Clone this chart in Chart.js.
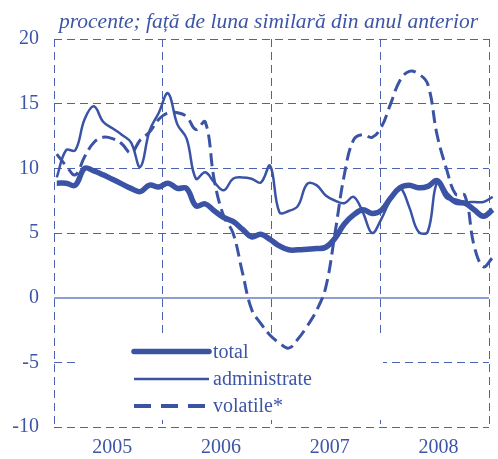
<!DOCTYPE html>
<html><head><meta charset="utf-8">
<script src="https://cdn.jsdelivr.net/npm/chart.js@4.4.1/dist/chart.umd.min.js"></script>
<style>html,body{margin:0;padding:0;background:#fff}#wrap{width:498px;height:459px}</style>
</head><body><div id="wrap"><canvas id="c" width="498" height="459"></canvas></div>
<script>
const titleText = 'procente; față de luna similară din anul anterior';
const years = ['2005', '2006', '2007', '2008'];
const seriesNames = ['total', 'administrate', 'volatile*'];
// monthly values, Jan 2005 - Dec 2008
const total = [8.85, 8.85, 8.7, 10.0, 9.8, 9.5, 9.15, 8.8, 8.45, 8.2, 8.7, 8.56,
  8.85, 8.45, 8.45, 7.1, 7.25, 6.7, 6.2, 5.9, 5.3, 4.7, 4.9, 4.5,
  4.0, 3.7, 3.7, 3.75, 3.8, 3.9, 4.6, 5.7, 6.4, 6.8, 6.5, 6.76,
  7.7, 8.5, 8.7, 8.5, 8.6, 9.05, 8.0, 7.4, 7.3, 6.8, 6.3, 6.8];
const administrate = [9.3, 11.4, 11.4, 13.8, 14.8, 13.6, 13.1, 12.6, 12.0, 10.1, 12.9, 14.3,
  15.8, 13.4, 12.3, 9.2, 9.7, 8.9, 8.3, 9.2, 9.3, 9.2, 8.9, 10.2,
  6.6, 6.7, 7.1, 8.8, 8.7, 7.9, 7.5, 7.3, 7.8, 6.6, 5.0, 6.1,
  7.6, 8.5, 7.0, 5.1, 5.1, 8.9, 7.7, 7.6, 7.4, 7.4, 7.4, 7.8];
const volatile = [11.1, 10.2, 9.5, 10.9, 12.0, 12.4, 12.3, 11.9, 11.2, 12.2, 12.8, 13.8,
  14.3, 14.3, 14.0, 13.0, 13.6, 9.0, 6.3, 5.0, 2.0, -0.9, -2.0, -2.9,
  -3.5, -3.9, -3.2, -2.2, -1.0, 0.8, 5.0, 9.5, 12.2, 12.6, 12.4, 13.2,
  15.0, 16.8, 17.5, 17.3, 16.5, 12.6, 10.0, 8.0, 7.9, 4.0, 2.4, 3.1];

const BLUE = '#3a53a4';
const TEXT = '#3d55a6';
const GRID = '#4a62b0';
const ZERO = '#8e9dd2';
const FONT = '"Liberation Serif", "Times New Roman", serif';

const X_MIN = -0.3, X_MAX = 46.6;
const span = (X_MAX - X_MIN) / years.length;
const bounds = [];
for (let k = 0; k <= years.length; k++) bounds.push(X_MIN + k * span);
const centers = years.map((y, k) => bounds[k] + span / 2 + 0.42);
const isCenter = v => centers.some(c => Math.abs(c - v) < 1e-6);

const toPts = arr => arr.map((v, i) => ({x: i, y: v}));

const styles = [
  {borderWidth: 5.5, borderDash: []},
  {borderWidth: 2.5, borderDash: []},
  {borderWidth: 3, borderDash: [13, 6]}
];
const seriesData = [total, administrate, volatile];

const decor = {
  id: 'decor',
  beforeDatasetsDraw(chart) {
    const c = chart.ctx;
    c.save();
    c.fillStyle = '#fff';
    c.fillRect(77, 338, 306, 82);
    c.restore();
  },
  afterDatasetsDraw(chart) {
    const c = chart.ctx;
    c.save();
    // title
    c.fillStyle = TEXT;
    c.font = 'italic 21.5px ' + FONT;
    c.textBaseline = 'alphabetic';
    c.textAlign = 'left';
    c.fillText(titleText, 59, 28);
    // legend
    const ys = [351.5, 379, 406];
    chart.data.datasets.forEach((ds, i) => {
      c.strokeStyle = BLUE;
      c.lineWidth = [5.5, 2.5, 4][i];
      c.setLineDash(i === 2 ? [17, 10] : []);
      c.lineCap = i === 0 ? 'round' : 'butt';
      c.beginPath();
      c.moveTo(134, ys[i]);
      c.lineTo(209, ys[i]);
      c.stroke();
      c.setLineDash([]);
      c.fillStyle = TEXT;
      c.font = '20px ' + FONT;
      c.textBaseline = 'middle';
      c.fillText(ds.label, 213, ys[i] + 1);
    });
    c.restore();
  }
};

new Chart(document.getElementById('c'), {
  type: 'line',
  data: {
    datasets: seriesData.map((d, i) => ({
      label: seriesNames[i],
      data: toPts(d),
      borderColor: BLUE,
      backgroundColor: BLUE,
      borderWidth: styles[i].borderWidth,
      borderDash: styles[i].borderDash,
      pointRadius: 0,
      tension: 0.4,
      fill: false,
      clip: false
    }))
  },
  options: {
    responsive: false,
    animation: false,
    layout: {padding: {top: 39, right: 5, left: 0, bottom: 0}},
    plugins: {legend: {display: false}, title: {display: false}, tooltip: {enabled: false}},
    scales: {
      x: {
        type: 'linear',
        min: X_MIN,
        max: X_MAX,
        afterBuildTicks: s => { s.ticks = bounds.concat(centers).sort((a, b) => a - b).map(v => ({value: v})); },
        afterFit: s => { s.height = 32; },
        ticks: {
          autoSkip: false,
          maxRotation: 0,
          padding: 9,
          color: TEXT,
          font: {family: FONT, size: 20},
          callback: v => { const k = centers.findIndex(c => Math.abs(c - v) < 1e-6); return k >= 0 ? years[k] : ''; }
        },
        grid: {
          drawTicks: false,
          lineWidth: 1,
          color: ctx => (ctx.tick && isCenter(ctx.tick.value)) ? 'rgba(0,0,0,0)' : GRID
        },
        border: {display: false, dash: [8, 5]}
      },
      y: {
        min: -10,
        max: 20,
        afterFit: s => { s.width = 54; },
        ticks: {
          stepSize: 5,
          padding: 15,
          color: TEXT,
          font: {family: FONT, size: 20}
        },
        grid: {
          drawTicks: false,
          lineWidth: ctx => (ctx.tick && ctx.tick.value === 0) ? 2 : 1,
          color: ctx => (ctx.tick && ctx.tick.value === 0) ? ZERO : GRID
        },
        border: {display: false, dash: ctx => (ctx.tick && ctx.tick.value === 0) ? [] : [8, 5]}
      }
    }
  },
  plugins: [decor]
});
</script></body></html>
